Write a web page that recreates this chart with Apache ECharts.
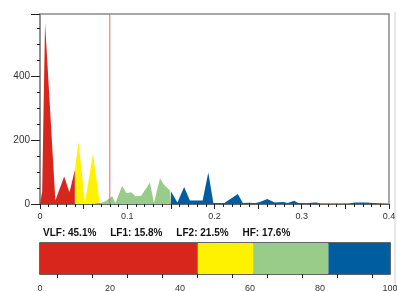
<!DOCTYPE html>
<html>
<head>
<meta charset="utf-8">
<script src="https://cdn.jsdelivr.net/npm/echarts@6/dist/echarts.min.js"></script>
<style>
  html, body { margin: 0; padding: 0; background: #fff; }
  #chart { width: 397px; height: 291px; }
</style>
</head>
<body>
<div id="chart"></div>
<script>
// 频带名称与占比
const bandNames = ['VLF', 'LF1', 'LF2', 'HF'];
const bandPercent = [45.1, 15.8, 21.5, 17.6];
const bandColors = ['#d8261d', '#fff200', '#99cc88', '#005ea0'];

// 频谱数据 [频率, 功率]，按频带分段
const vlfData = [[0, 0], [0.0025, 40], [0.0058, 567], [0.0085, 440], [0.0176, 11], [0.0277, 86], [0.0338, 36], [0.04, 107]];
const lf1Data = [[0.04, 107], [0.0442, 194], [0.0515, 5], [0.0607, 157], [0.0684, 5], [0.07, 3]];
const lf2Data = [[0.07, 3], [0.0745, 8], [0.0826, 24], [0.0865, 3], [0.0941, 57], [0.0991, 34], [0.1045, 37],
  [0.1095, 24], [0.116, 26], [0.126, 67], [0.1306, 3], [0.1375, 81], [0.142, 60], [0.1487, 43], [0.15, 40]];
const hfData = [[0.15, 40], [0.1575, 5], [0.1652, 53], [0.1718, 11], [0.1864, 11], [0.1929, 99], [0.1987, 3],
  [0.2113, 3], [0.2267, 31], [0.2325, 3], [0.24, 4], [0.246, 2], [0.252, 6], [0.2605, 16], [0.269, 5],
  [0.2786, 6], [0.284, 3], [0.2913, 10], [0.296, 3], [0.306, 2], [0.311, 4], [0.317, 5], [0.322, 1],
  [0.353, 1], [0.361, 5], [0.373, 5], [0.386, 2], [0.4, 0]];
const markFreq = 0.08;
const powerMax = 595;

const chart = echarts.init(document.getElementById('chart'));
const font = 'Liberation Sans, Arial, sans-serif';

const summary = bandNames.map((n, i) => n + ': ' + bandPercent[i].toFixed(1) + '%').join('     ');

const spectra = [vlfData, lf1Data, lf2Data, hfData];
const areaSeries = spectra.map((d, i) => ({
  name: bandNames[i],
  type: 'line',
  xAxisIndex: 0,
  yAxisIndex: 0,
  data: d,
  symbol: 'none',
  lineStyle: { width: 0 },
  areaStyle: { color: bandColors[i], opacity: 1 },
  z: 2
}));

// 分界竖线
const markSeries = {
  name: 'mark',
  type: 'line',
  xAxisIndex: 0,
  yAxisIndex: 0,
  data: [[markFreq, 0], [markFreq, powerMax]],
  symbol: 'none',
  lineStyle: { color: '#dc6a6a', width: 1 },
  silent: true,
  z: 3
};

const barSeries = bandPercent.map((p, i) => ({
  name: bandNames[i],
  type: 'bar',
  xAxisIndex: 1,
  yAxisIndex: 1,
  stack: 'total',
  barWidth: '100%',
  data: [p],
  itemStyle: { color: bandColors[i] }
}));

const option = {
  animation: false,
  textStyle: { fontFamily: font },
  title: {
    text: summary,
    left: 43,
    top: 228,
    padding: 0,
    textStyle: { fontSize: 10, fontWeight: 'bold', color: '#111', fontFamily: font }
  },
  grid: [
    { left: 40, top: 14, right: 8, height: 190, show: true, borderColor: '#8a8a8a', borderWidth: 1.5, outerBoundsMode: 'none' },
    { left: 40, top: 243, right: 7, height: 31, show: true, borderColor: '#333', borderWidth: 1.5, outerBoundsMode: 'none' }
  ],
  xAxis: [
    {
      type: 'value',
      gridIndex: 0,
      min: 0,
      max: 0.4,
      interval: 0.05,
      splitLine: { show: false },
      axisLine: { lineStyle: { color: '#666', width: 1 } },
      axisTick: { length: 5, lineStyle: { color: '#222' } },
      minorTick: { show: true, splitNumber: 5, length: 3, lineStyle: { color: '#222' } },
      axisLabel: {
        fontSize: 9,
        color: '#333',
        margin: 8,
        formatter: v => {
          const t = Math.round(v * 100);
          if (t % 10 !== 0) return '';
          return t === 0 ? '0' : (t / 100).toFixed(1);
        }
      }
    },
    {
      type: 'value',
      gridIndex: 1,
      min: 0,
      max: 100,
      interval: 10,
      splitLine: { show: false },
      axisLine: { lineStyle: { color: '#333', width: 1 } },
      axisTick: { length: 7, lineStyle: { color: '#222' } },
      minorTick: { show: true, splitNumber: 2, length: 4, lineStyle: { color: '#222' } },
      axisLabel: {
        fontSize: 9,
        color: '#333',
        margin: 10,
        formatter: v => (Math.round(v) % 20 === 0 ? String(Math.round(v)) : '')
      }
    }
  ],
  yAxis: [
    {
      type: 'value',
      gridIndex: 0,
      min: 0,
      max: powerMax,
      interval: 200,
      splitLine: { show: false },
      axisLine: { show: true, lineStyle: { color: '#8a8a8a', width: 1.5 } },
      axisTick: { show: true, length: 9, lineStyle: { color: '#222' } },
      minorTick: { show: true, splitNumber: 4, length: 3, lineStyle: { color: '#222' } },
      axisLabel: { fontSize: 10, color: '#333', margin: 10, showMaxLabel: false }
    },
    {
      type: 'category',
      gridIndex: 1,
      data: [''],
      axisLine: { show: false },
      axisTick: { show: false },
      axisLabel: { show: false }
    }
  ],
  graphic: [
    {
      type: 'line',
      shape: { x1: 395, y1: 12, x2: 395, y2: 291 },
      style: { stroke: '#cfcfcf', lineWidth: 1 }
    }
  ],
  series: areaSeries.concat([markSeries], barSeries)
};

chart.setOption(option);
</script>
</body>
</html>
